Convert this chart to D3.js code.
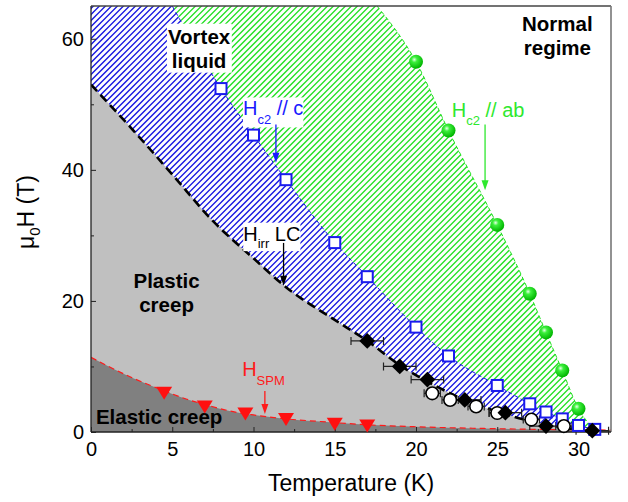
<!DOCTYPE html>
<html>
<head>
<meta charset="utf-8">
<script src="https://cdn.jsdelivr.net/npm/d3@7"></script>
<style>
  body { margin: 0; background: #fff; }
  text { font-family: Arial, "Liberation Sans", sans-serif; }
</style>
</head>
<body>
<svg width="628" height="502"></svg>
<script>
// ---- data (T in K, mu0H in T) ----
var hc2c = [[8, 52.4], [10, 45.3], [12, 38.5], [15, 28.9], [17, 23.7], [20, 16.0],
  [22, 11.6], [25, 7.1], [27, 4.3], [28, 3.05], [29, 2.0], [30, 1.0], [31, 0.4]];
var hc2ab = [[20, 56.5], [22, 46.0], [25, 31.6], [27, 21.1], [28, 15.2], [29, 9.4], [30, 3.55]];
var hirrT = [[17, 13.9], [19, 10.0], [20.7, 8.0], [23, 4.9], [25.5, 2.95], [28, 0.9], [30.85, 0.2]];
var hirrErr = [1, 1, 1, 1, 1, 1, 1];
var hirrCircles = [[21.0, 5.9], [22.1, 4.9], [23.7, 3.9], [25.0, 2.9], [27.1, 1.9], [29.1, 0.9]];
var circleErr = [0.5, 0.5, 0.5, 0.5, 0.5, 0.5];
var hspm = [[4.5, 5.9], [7.0, 3.8], [9.5, 2.75], [12.0, 1.9], [15.0, 1.2], [17.0, 0.9]];

// phase boundaries (guides to the eye)
var edgeC = [[5, 65], [8, 52.4], [10, 45.3], [12, 38.5], [15, 28.9], [17, 23.7], [20, 16.0],
  [22, 11.6], [25, 7.1], [27, 4.3], [28, 3.05], [29, 2.0], [30, 1.0], [31, 0.4], [31.8, 0]];
var edgeAb = [[17.6, 65], [20, 56.5], [22, 46.0], [25, 31.6], [27, 21.1], [28, 15.2],
  [29, 9.4], [30, 3.55], [31.2, 0]];
var edgeIrr = [[0, 53], [2.5, 46.3], [5, 39.3], [7.5, 32.2], [10, 26.5], [12, 22.1], [15, 17.1],
  [17, 13.9], [19, 10.2], [21, 7.3], [23, 4.9], [25, 3.1], [27, 1.7], [29, 0.7], [31, 0]];
var edgeSpm = [[0, 11.4], [1, 10.1], [2.6, 8.2], [4.5, 6.3], [5.9, 5.0], [7, 4.2], [8.75, 3.1],
  [10, 2.6], [12, 2.0], [14.1, 1.6], [17, 1.1], [20, 0.8], [25, 0.5], [32, 0.3]];

var xTicks = [0, 5, 10, 15, 20, 25, 30];
var xMinor = [2.5, 7.5, 12.5, 17.5, 22.5, 27.5];
var yTicks = [0, 20, 40, 60];
var yMinor = [10, 30, 50];

var svg = d3.select("svg");
var x = d3.scaleLinear().domain([0, 32]).range([91, 611]);
var y = d3.scaleLinear().domain([0, 65]).range([432, 6]);

var line = d3.line().x(function (d) { return x(d[0]); })
  .y(function (d) { return y(d[1]); }).curve(d3.curveMonotoneX);

// region under an edge; fromTop adds the flat stretch along the top frame
function under(edge, fromTop) {
  var last = edge[edge.length - 1];
  var s = "M" + x(0) + "," + y(0);
  if (fromTop) s += "L" + x(0) + "," + y(65);
  s += "L" + line(edge).slice(1);
  s += "L" + x(last[0]) + "," + y(0) + "Z";
  return s;
}

var defs = svg.append("defs");
defs.append("clipPath").attr("id", "plot")
  .append("rect").attr("x", 91).attr("y", 6).attr("width", 520).attr("height", 426);
defs.append("clipPath").attr("id", "cGreen").append("path").attr("d", under(edgeAb, true));
defs.append("clipPath").attr("id", "cBlue").append("path").attr("d", under(edgeC, true));

var ball = defs.append("radialGradient").attr("id", "ball")
  .attr("cx", "38%").attr("cy", "35%").attr("r", "65%");
ball.append("stop").attr("offset", "0%").attr("stop-color", "#e6ffe6");
ball.append("stop").attr("offset", "30%").attr("stop-color", "#3cf03c");
ball.append("stop").attr("offset", "100%").attr("stop-color", "#00b400");

// diagonal hatching drawn as plain lines clipped to a region
function hatch(parent, clipId, color) {
  var g = parent.append("g").attr("clip-path", "url(#" + clipId + ")")
    .attr("stroke", color).attr("stroke-width", 1.3);
  for (var c = -430; c < 530; c += 6) {
    g.append("line").attr("x1", 91 + c).attr("y1", 432.5).attr("x2", 91 + c + 427).attr("y2", 5.5);
  }
}

var plot = svg.append("g").attr("clip-path", "url(#plot)");
hatch(plot, "cGreen", "#22e022");
plot.append("path").attr("d", line(edgeAb)).attr("fill", "none")
  .attr("stroke", "#22e022").attr("stroke-dasharray", "4,3");
plot.append("path").attr("d", under(edgeC, true)).attr("fill", "#fff");
hatch(plot, "cBlue", "#1515e0");
plot.append("path").attr("d", line(edgeC)).attr("fill", "none")
  .attr("stroke", "#1515e0").attr("stroke-dasharray", "4,3");
plot.append("path").attr("d", under(edgeIrr, false)).attr("fill", "#c0c0c0");
plot.append("path").attr("d", under(edgeSpm, false)).attr("fill", "#808080");
plot.append("path").attr("d", line(edgeSpm)).attr("fill", "none")
  .attr("stroke", "#ff1a1a").attr("stroke-width", 1.2).attr("stroke-dasharray", "6,4");
plot.append("path").attr("d", line(edgeIrr)).attr("fill", "none")
  .attr("stroke", "#000").attr("stroke-width", 2.6).attr("stroke-dasharray", "9,5");

// ---- axes ----
function styleAxis(g) {
  g.select(".domain").remove();
  g.attr("color", "#222").attr("font-size", 20)
    .attr("font-family", "Arial, 'Liberation Sans', sans-serif");
  g.selectAll("text").attr("fill", "#000");
}
svg.append("g").attr("transform", "translate(0,432)")
  .call(d3.axisBottom(x).tickValues(xTicks).tickSizeInner(-5).tickSizeOuter(0).tickPadding(10))
  .call(styleAxis);
svg.append("g").attr("transform", "translate(0,432)")
  .call(d3.axisBottom(x).tickValues(xMinor).tickSizeInner(-3).tickSizeOuter(0).tickFormat(""))
  .call(styleAxis);
svg.append("g").attr("transform", "translate(91,0)")
  .call(d3.axisLeft(y).tickValues(yTicks).tickSizeInner(-5).tickSizeOuter(0).tickPadding(7))
  .call(styleAxis);
svg.append("g").attr("transform", "translate(91,0)")
  .call(d3.axisLeft(y).tickValues(yMinor).tickSizeInner(-3).tickSizeOuter(0).tickFormat(""))
  .call(styleAxis);

// frame
svg.append("line").attr("x1", 91).attr("x2", 611).attr("y1", 6).attr("y2", 6)
  .attr("stroke", "#444").attr("stroke-width", 1.3);
svg.append("line").attr("x1", 611).attr("x2", 611).attr("y1", 6).attr("y2", 432)
  .attr("stroke", "#777").attr("stroke-width", 1.6);
svg.append("line").attr("x1", 91).attr("x2", 91).attr("y1", 6).attr("y2", 432)
  .attr("stroke", "#222").attr("stroke-width", 1.3);
svg.append("line").attr("x1", 91).attr("x2", 611).attr("y1", 432).attr("y2", 432)
  .attr("stroke", "#222").attr("stroke-width", 1.3);

// ---- labels ----
function label(T, H, opts) {
  var g = svg.append("g");
  var t = g.append("text").attr("x", x(T)).attr("y", y(H))
    .attr("font-size", opts.size || 20).attr("fill", opts.color || "#000")
    .attr("font-weight", opts.bold ? "bold" : null)
    .attr("text-anchor", opts.anchor || "start");
  return { g: g, t: t };
}
function whiteBack(l, pad) {
  var b = l.g.node().getBBox();
  l.g.insert("rect", "text").attr("x", b.x - pad).attr("y", b.y - pad)
    .attr("width", b.width + 2 * pad).attr("height", b.height + 2 * pad).attr("fill", "#fff");
}
function subLabel(T, H, main, sub, rest, color, dy) {
  var l = label(T, H, { color: color });
  l.t.append("tspan").text(main);
  l.t.append("tspan").attr("font-size", 13).attr("dy", dy).text(sub);
  if (rest) l.t.append("tspan").attr("dy", -dy).text(rest);
  return l;
}

var vl = label(6.65, 59.25, { bold: true, anchor: "middle", size: 20.5 });
vl.t.append("tspan").attr("x", x(6.65)).text("Vortex");
vl.t.append("tspan").attr("x", x(6.65)).attr("dy", 24).text("liquid");
whiteBack(vl, 1);

var nr = label(28.7, 61.25, { bold: true, anchor: "middle", size: 20.5 });
nr.t.append("tspan").attr("x", x(28.7)).text("Normal");
nr.t.append("tspan").attr("x", x(28.7)).attr("dy", 24.5).text("regime");

var pc = label(4.65, 21.9, { bold: true, anchor: "middle", size: 20.5 });
pc.t.append("tspan").attr("x", x(4.65)).text("Plastic");
pc.t.append("tspan").attr("x", x(4.65)).attr("dy", 24).text("creep");

label(0.3, 1.2, { bold: true, size: 20.5 }).t.text("Elastic creep");

var lc = subLabel(9.35, 48.3, "H", "c2", " // c", "#1a1aff", 9);
whiteBack(lc, 0);
subLabel(22.2, 48.1, "H", "c2", " // ab", "#2ee82e", 8);
var li = subLabel(9.37, 29.2, "H", "irr", " LC", "#000", 7.5);
whiteBack(li, 0);
subLabel(9.3, 8.5, "H", "SPM", null, "#ff1a1a", 8.3);

// arrows
function arrow(T, H0, H1, color) {
  svg.append("line").attr("x1", x(T)).attr("x2", x(T)).attr("y1", y(H0)).attr("y2", y(H1) - 8)
    .attr("stroke", color).attr("stroke-width", 1.3);
  svg.append("path").attr("fill", color)
    .attr("d", "M" + (x(T) - 3.5) + "," + (y(H1) - 10) + "L" + (x(T) + 3.5) + "," + (y(H1) - 10) +
      "L" + x(T) + "," + y(H1) + "Z");
}
arrow(11.38, 46.9, 41.1, "#1a1aff");
arrow(24.25, 46.9, 36.9, "#2ee82e");
arrow(11.85, 28.85, 22.3, "#000");
arrow(10.7, 6.26, 2.75, "#ff1a1a");

// ---- markers ----
function errBars(data, err) {
  var g = svg.append("g").attr("stroke", "#222").attr("stroke-width", 1.2).attr("fill", "none");
  data.forEach(function (d, i) {
    var x0 = x(d[0] - err[i]), x1 = x(d[0] + err[i]), yy = y(d[1]);
    g.append("path").attr("d", "M" + x0 + "," + yy + "H" + x1 +
      "M" + x0 + "," + (yy - 4) + "V" + (yy + 4) + "M" + x1 + "," + (yy - 4) + "V" + (yy + 4));
  });
}
errBars(hirrT, hirrErr);
errBars(hirrCircles, circleErr);

svg.append("g").selectAll("rect").data(hc2c).join("rect")
  .attr("x", function (d) { return x(d[0]) - 5.5; })
  .attr("y", function (d) { return y(d[1]) - 5.5; })
  .attr("width", 11).attr("height", 11)
  .attr("fill", "#fff").attr("stroke", "#1a1aee").attr("stroke-width", 2);

svg.append("g").selectAll("circle").data(hc2ab).join("circle")
  .attr("cx", function (d) { return x(d[0]); })
  .attr("cy", function (d) { return y(d[1]); })
  .attr("r", 7).attr("fill", "url(#ball)");

svg.append("g").selectAll("circle").data(hirrCircles).join("circle")
  .attr("cx", function (d) { return x(d[0]); })
  .attr("cy", function (d) { return y(d[1]); })
  .attr("r", 6.3).attr("fill", "#fff").attr("stroke", "#000").attr("stroke-width", 1.6);

svg.append("g").selectAll("path").data(hirrT).join("path")
  .attr("d", d3.symbol().type(d3.symbolSquare).size(125))
  .attr("transform", function (d) { return "translate(" + x(d[0]) + "," + y(d[1]) + ") rotate(45)"; })
  .attr("fill", "#000");

svg.append("g").selectAll("path").data(hspm).join("path")
  .attr("d", "M-8,-6.5L8,-6.5L0,6.5Z")
  .attr("transform", function (d) { return "translate(" + x(d[0]) + "," + y(d[1]) + ")"; })
  .attr("fill", "#ff1010");

// axis titles
svg.append("text").attr("x", (x(0) + x(32)) / 2).attr("y", 491)
  .attr("text-anchor", "middle").attr("font-size", 23).text("Temperature (K)");
var yt = svg.append("text").attr("transform", "translate(33.5,212) rotate(-90)")
  .attr("text-anchor", "middle").attr("font-size", 23);
yt.append("tspan").text("\u03bc");
yt.append("tspan").attr("font-size", 15).attr("dy", 6).text("0");
yt.append("tspan").attr("dy", -6).text("H (T)");
</script>
</body>
</html>
